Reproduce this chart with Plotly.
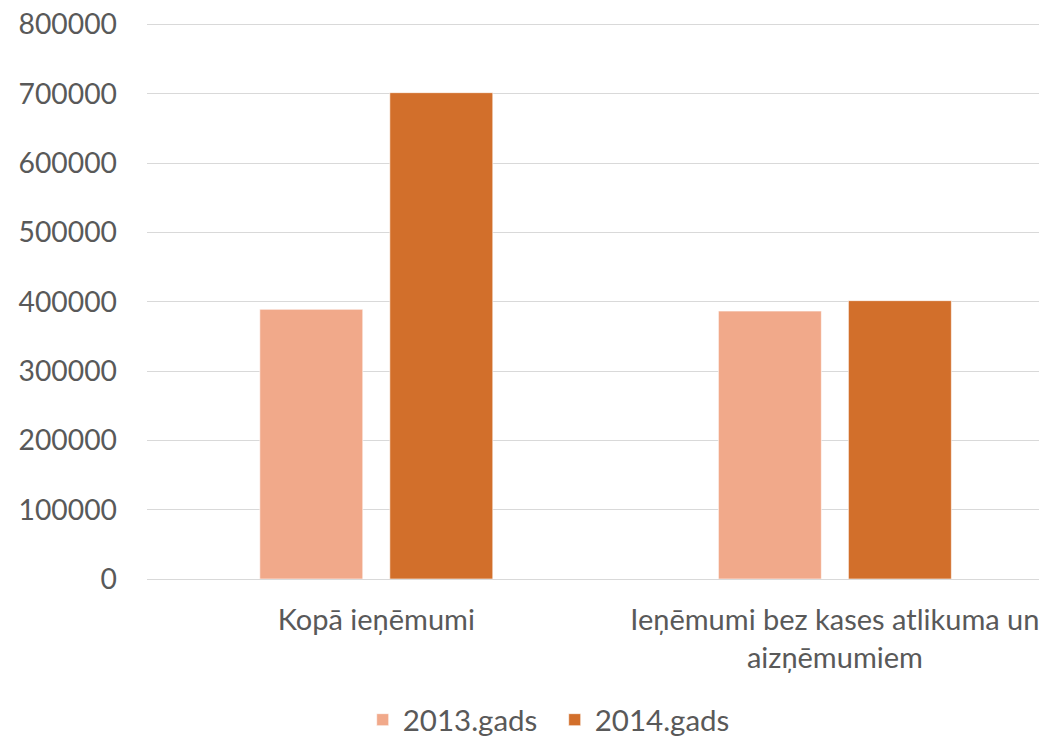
import plotly.graph_objects as go

categories = ["Kopā ieņēmumi", "Ieņēmumi bez kases atlikuma un<br>aizņēmumiem"]
series_names = ["2013.gads", "2014.gads"]
values_2013 = [389000, 386500]
values_2014 = [701500, 401500]
y_ticks = [0, 100000, 200000, 300000, 400000, 500000, 600000, 700000, 800000]
colors = ["#F1A98A", "#D26F2B"]

FONT = "Lato, Open Sans, sans-serif"
TXT = "#595959"

fig = go.Figure()
for name, vals, col in zip(series_names, [values_2013, values_2014], colors):
    fig.add_trace(go.Bar(
        x=categories, y=vals, name=name,
        marker=dict(color=col, line=dict(color="rgba(255,255,255,0.6)", width=1)),
    ))

fig.update_layout(
    width=1047, height=738,
    margin=dict(l=139, r=0, t=15, b=167, autoexpand=False),
    paper_bgcolor="white", plot_bgcolor="white",
    barmode="group", bargap=0.433, bargroupgap=0.208,
    font=dict(family=FONT, size=29, color=TXT),
    showlegend=True,
    legend=dict(orientation="h", x=0.449, xanchor="center", y=-0.2536, yanchor="middle",
                font=dict(size=29.5, color=TXT), itemwidth=30, tracegroupgap=0,
                entrywidth=147, entrywidthmode="pixels",
                bgcolor="rgba(0,0,0,0)"),
    xaxis=dict(range=[-0.5, 1.480], showgrid=False, showline=False, ticks="",
               tickfont=dict(size=29, color=TXT), zeroline=False, automargin=False,
               ticklabelstandoff=21),
    yaxis=dict(range=[0, 802000], tickvals=y_ticks, ticktext=[str(v) for v in y_ticks],
               showgrid=True, gridcolor="#D9D9D9", gridwidth=1.3,
               zeroline=True, zerolinecolor="#D9D9D9", zerolinewidth=1.3,
               showline=False, ticks="", ticklabelstandoff=29, automargin=False,
               ticklabeloverflow="allow",
               tickfont=dict(size=28.3, color=TXT)),
)

fig.write_html("out.html")
